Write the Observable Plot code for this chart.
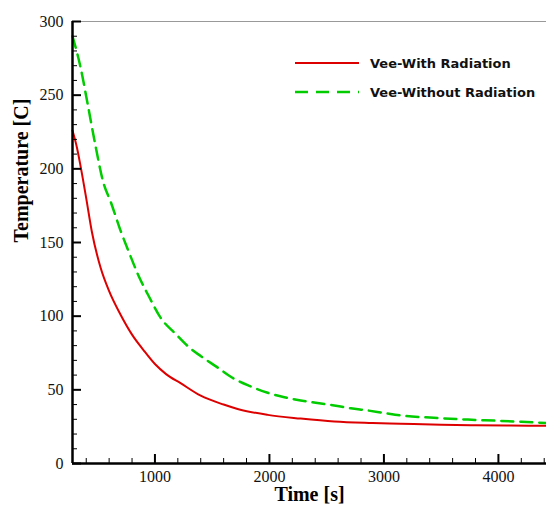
<!DOCTYPE html>
<html><head><meta charset="utf-8">
<script src="https://cdn.jsdelivr.net/npm/d3@7"></script>
<script src="https://cdn.jsdelivr.net/npm/@observablehq/plot@0.6"></script>
<style>body{margin:0;background:#fff}</style>
</head><body><div id="chart"></div>
<script>
// Series: Vee-With Radiation
const timeWith = [280, 320, 350, 400, 450, 525, 600, 700, 800, 900, 1000, 1100, 1224, 1400, 1600, 1722, 1985, 2273, 2566, 2900, 3147, 3500, 3800, 4100, 4420];
const tempWith = [226, 214, 202, 180, 157, 133, 117, 101, 87.5, 77, 67.5, 60.5, 54.5, 46, 40, 37, 33, 30.5, 28.5, 27.5, 27, 26.3, 26, 25.8, 25.6];
// Series: Vee-Without Radiation
const timeWithout = [280, 350, 410, 480, 552, 612, 700, 775, 848, 950, 1049, 1180, 1311, 1399, 1550, 1687, 1830, 1985, 2130, 2273, 2420, 2566, 2710, 2858, 3000, 3147, 3436, 3733, 4000, 4200, 4420];
const tempWithout = [290, 269, 245, 216, 190, 178, 158, 143, 129, 113, 99, 88, 78, 73, 65, 57.7, 52.5, 48, 45, 42.8, 41, 39.4, 37.5, 36, 34.3, 32.6, 31, 29.8, 29, 28.3, 27.5];

const seriesNames = ["Vee-With Radiation", "Vee-Without Radiation"];
const xMajorTicks = [1000, 2000, 3000, 4000];
const xMinorTicks = [400, 600, 800, 1200, 1400, 1600, 1800, 2200, 2400, 2600, 2800, 3200, 3400, 3600, 3800, 4200, 4400];
const yMajorTicks = [0, 50, 100, 150, 200, 250, 300];
const yMinorTicks = [10, 20, 30, 40, 60, 70, 80, 90, 110, 120, 130, 140, 160, 170, 180, 190, 210, 220, 230, 240, 260, 270, 280, 290];
const xDomain = [280, 4420];
const yDomain = [0, 300];
const xTitle = "Time [s]";
const yTitle = "Temperature [C]";

const dataWith = timeWith.map((t, i) => ({t, v: tempWith[i]}));
const dataWithout = timeWithout.map((t, i) => ({t, v: tempWithout[i]}));

const W = 546, H = 509, mL = 72, mR = 0, mT = 21, mB = 46;
const pw = W - mL - mR, ph = H - mT - mB;
const RED = "#dd0000", GREEN = "#00cc00";

const svg = Plot.plot({
  width: W, height: H,
  marginLeft: mL, marginRight: mR, marginTop: mT, marginBottom: mB,
  style: {fontFamily: "Liberation Serif", fontSize: "16px", color: "#111", background: "#fff"},
  x: {domain: xDomain},
  y: {domain: yDomain},
  marks: [
    Plot.ruleY([yDomain[1]], {stroke: "#999", strokeWidth: 1}),
    Plot.line(dataWith, {x: "t", y: "v", stroke: RED, strokeWidth: 2, curve: "monotone-x"}),
    Plot.line(dataWithout, {x: "t", y: "v", stroke: GREEN, strokeWidth: 2.5, strokeDasharray: "12,7", curve: "monotone-x"}),
    Plot.ruleX([xDomain[0]], {stroke: "#000", strokeWidth: 2.5}),
    Plot.ruleY([yDomain[0]], {stroke: "#000", strokeWidth: 2.5}),
    // inward ticks (major + minor)
    Plot.tickY(yMajorTicks, {y: d => d, insetRight: pw - 9, stroke: "#000", strokeWidth: 2}),
    Plot.tickY(yMinorTicks, {y: d => d, insetRight: pw - 5, stroke: "#000", strokeWidth: 1}),
    Plot.tickX(xMajorTicks, {x: d => d, insetTop: ph - 9, stroke: "#000", strokeWidth: 2}),
    Plot.tickX(xMinorTicks, {x: d => d, insetTop: ph - 5, stroke: "#000", strokeWidth: 1}),
    // tick labels
    Plot.axisX({ticks: xMajorTicks, tickSize: 0, tickPadding: 7, label: null, tickFormat: d => String(d)}),
    Plot.axisY({ticks: yMajorTicks, tickSize: 0, tickPadding: 9, label: null, tickFormat: d => String(d)}),
    // axis titles
    Plot.text([xTitle], {text: d => d, frameAnchor: "bottom", dy: 37, fontWeight: "bold", fontSize: 20, fill: "#000"}),
    Plot.text([yTitle], {text: d => d, frameAnchor: "left", rotate: -90, dx: -51, fontWeight: "bold", fontSize: 20, fill: "#000"})
  ]
});

// legend inside plot
const g = d3.select(svg).append("g")
  .attr("font-family", "DejaVu Sans").attr("font-weight", "bold").attr("font-size", 13)
  .attr("text-anchor", "start");
const legendItems = [
  {name: seriesNames[0], color: RED, dash: null, width: 2, y: 63},
  {name: seriesNames[1], color: GREEN, dash: "13,8", width: 2.5, y: 92}
];
legendItems.forEach(it => {
  g.append("line").attr("x1", 295).attr("x2", 359).attr("y1", it.y).attr("y2", it.y)
    .attr("stroke", it.color).attr("stroke-width", it.width).attr("stroke-dasharray", it.dash);
  g.append("text").attr("x", 370).attr("y", it.y).attr("dy", "0.35em").attr("fill", "#111").text(it.name);
});

document.getElementById("chart").appendChild(svg);
</script></body></html>
